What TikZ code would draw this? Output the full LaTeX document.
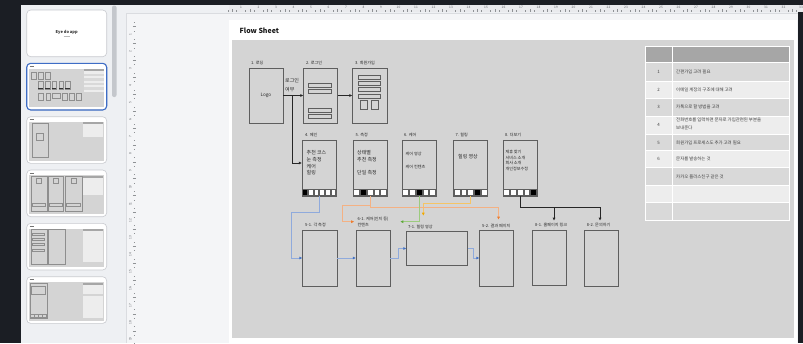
\documentclass[tikz,border=0pt]{standalone}
\usepackage{fontspec}
\newfontfamily\kr{Noto Sans CJK KR}
\usetikzlibrary{arrows.meta,calc}
\definecolor{uidark}{HTML}{1B1E24}
\definecolor{panel}{HTML}{EEF0F3}
\definecolor{canvas}{HTML}{F4F5F7}
\definecolor{cline}{HTML}{DADCE0}
\definecolor{rulerbg}{HTML}{E9EAED}
\definecolor{rtxt}{HTML}{5F6368}
\definecolor{scroll}{HTML}{C4C7CC}
\definecolor{diag}{HTML}{D4D4D4}
\definecolor{boxc}{HTML}{5E5E5E}
\definecolor{txt}{HTML}{262626}
\definecolor{tabtxt}{HTML}{404040}
\definecolor{lblue}{HTML}{8FAADC}
\definecolor{tblue}{HTML}{4472C4}
\definecolor{lorange}{HTML}{F4B183}
\definecolor{torange}{HTML}{ED7D31}
\definecolor{lamber}{HTML}{F5C466}
\definecolor{tamber}{HTML}{F0A800}
\definecolor{lgreen}{HTML}{9CCB7E}
\definecolor{tgreen}{HTML}{5FA83A}
\definecolor{thead}{HTML}{A6A6A6}
\definecolor{tdark}{HTML}{D9D9D9}
\definecolor{tlight}{HTML}{EDEDED}
\definecolor{selblue}{HTML}{3E6DC6}
\definecolor{thumbb}{HTML}{C8CACF}

\newcommand\mytabs[3]{%
  \pgfmathsetmacro\tabw{(33-(#2-1))/#2}%
  \foreach \i in {1,...,#2}{%
    \pgfmathsetmacro\tabx{#1+0.5+(\i-1)*(\tabw+1)}%
    \ifnum\i=#3\relax\def\tabc{black}\else\def\tabc{white}\fi
    \draw[tabst, fill=\tabc] (\tabx,188.8) rectangle ++(\tabw,6.7);
  }}

\def\mainrects{249/68/283/123, 303.5/68/337.5/123, 352.5/68/387.5/123, 302/140/336/196, 353/140/387/196, 402/140/436/196, 453.5/140/487.5/196, 503/140/537/196, 302.5/230/337/286, 356/230/390/286, 406.5/231.5/467.5/265.5, 479.5/230/513.5/286, 532.5/230/566.5/285, 584.5/230/618.5/286}

\begin{document}
\begin{tikzpicture}[x=1pt,y=-1pt,
  scr/.style={draw=boxc, line width=0.55pt, inner sep=0pt, minimum width=34pt, minimum height=56pt},
  lab/.style={font=\kr\fontsize{4.1}{5.7}\selectfont, text=txt, inner sep=0pt, anchor=west, align=left},
  btxt/.style={font=\kr\fontsize{5}{6.67}\selectfont, text=txt, inner sep=0pt, anchor=west, align=left},
  stxt/.style={font=\kr\fontsize{4.1}{5.67}\selectfont, text=txt, inner sep=0pt, anchor=west, align=left},
  ttxt/.style={font=\kr\fontsize{4.4}{7.3}\selectfont, text=tabtxt, inner sep=0pt, anchor=west, align=left},
  tnum/.style={font=\kr\fontsize{4.4}{5}\selectfont, text=tabtxt, inner sep=0pt},
  rnum/.style={font=\kr\fontsize{3.2}{3.6}\selectfont, text=rtxt, inner sep=0pt},
  rtick/.style={draw=rtxt!70, line width=0.35pt},
  bar/.style={draw=boxc, line width=0.5pt},
  tabst/.style={draw=boxc, line width=0.45pt},
  conn/.style={line width=0.65pt},
  tipk/.style={-{Triangle[length=2.8pt,width=2.6pt]}},
  tipb/.style={-{Triangle[length=2.8pt,width=2.6pt,color=tblue]}},
  tipo/.style={-{Triangle[length=2.8pt,width=2.6pt,color=torange]}},
  tipa/.style={-{Triangle[length=2.8pt,width=2.6pt,color=tamber]}},
  tipg/.style={-{Triangle[length=2.8pt,width=2.6pt,color=tgreen]}},
  mini/.style={draw=boxc!70, line width=0.18pt},
  thumb/.style={fill=white, draw=thumbb, line width=0.6pt, rounded corners=4pt}
]
\useasboundingbox (0,0) rectangle (803,343);
% ---------- application chrome ----------
\fill[panel] (0,0) rectangle (803,343);
\fill[canvas] (126,13) rectangle (803,343);
\draw[cline, line width=0.5pt] (126,343) -- (126,13) -- (803,13);
\fill[uidark] (0,0) rectangle (21,343);
\fill[uidark] (0,0) rectangle (803,4.5);
\fill[uidark] (797.5,12) rectangle (803,343);
\fill[scroll, rounded corners=2pt] (112,5.5) rectangle (116.5,97);
% horizontal ruler
\fill[rulerbg] (229,4.5) rectangle (803,12);
\foreach \k in {1,...,33} \node[rnum] (hr\k) at ({241+(\k-1)*17.5},7.6) {\k};
\foreach \m in {0,...,131}{\pgfmathtruncatemacro\mm{mod(\m,4)}%
  \ifnum\mm=0\relax\else\ifnum\mm=2\relax
    \draw[rtick] ({223.5+\m*4.375},9) -- ++(0,2.8);\else
    \draw[rtick] ({223.5+\m*4.375},10.2) -- ++(0,1.6);\fi\fi}
% vertical ruler
\foreach \k in {1,...,19} \node[rnum, rotate=90] (vr\k) at (130.3,{35+(\k-1)*16.9}) {\k};
\foreach \m in {0,...,77}{\pgfmathtruncatemacro\mm{mod(\m,4)}%
  \ifnum\mm=0\relax\else\ifnum\mm=2\relax
    \draw[rtick] (132.8,{18.1+\m*4.225}) -- ++(2.8,0);\else
    \draw[rtick] (133.8,{18.1+\m*4.225}) -- ++(1.6,0);\fi\fi}
% ---------- thumbnails ----------
\foreach \t in {10,63.3,116.7,170,223.3,276.7} \draw[thumb] (26.7,\t) rectangle ++(80,46.7);
\node[font=\kr\bfseries\fontsize{4}{4.8}\selectfont, text=black!80, inner sep=0pt] (th1) at (66.7,32.3) {Eye do app};
\draw[gray!55, line width=0.7pt] (63.5,36.3) -- (69.9,36.3);
\foreach \t in {63.3,116.7,170,223.3,276.7}{
  \fill[diag] (29,\t+5.2) rectangle (104.3,\t+44);
  \draw[black!55, line width=0.6pt] (29.5,\t+2.8) -- (33.5,\t+2.8);
}
% thumbnail 2: miniature of the flow sheet
\begin{scope}[shift={(29,68.5)}, xscale=0.134, yscale=0.13, shift={(-232,-40)}]
  \foreach \a/\b/\c/\d in \mainrects {\draw[mini] (\a,\b) rectangle (\c,\d);}
  \foreach \x in {302,353,402,453.5,503} \fill[black!80] (\x,188) rectangle ++(34,8);
  \fill[tlight] (645,46.5) rectangle (789.5,220);
  \fill[thead] (645,46.5) rectangle (789.5,62.5);
  \foreach \y in {81,116,150.7,185} \fill[tdark] (645,\y) rectangle (789.5,\y+17.5);
\end{scope}
\draw[selblue, line width=1.1pt, rounded corners=4pt] (26.7,63.3) rectangle ++(80,46.7);
% thumbnail 3
\draw[mini] (31.7,123.3) rectangle (48.3,156.7);
\draw[mini] (36,133.3) rectangle (43.3,140);
\fill[tlight] (83.3,121.5) rectangle (102.7,137);
\fill[thead] (83.3,121.5) rectangle (102.7,123.5);
% thumbnail 4
\foreach \x/\w in {30.7/16, 48/15.3, 65/16.7}{
  \draw[mini] (\x,176.5) rectangle ++(\w,34.5);
  \draw[mini] (\x+\w/2-2.5,178) rectangle ++(5,5);
  \draw[mini] (\x+1.5,203) rectangle ++(\w-3,3);}
\fill[tlight] (83.3,175.5) rectangle (102.7,195);
\fill[thead] (83.3,175.5) rectangle (102.7,177.5);
% thumbnail 5
\draw[mini] (30.7,229.5) rectangle (46.7,264);
\foreach \y in {233,238,243,249} \draw[mini] (32.5,\y) rectangle ++(12,2.5);
\draw[mini] (48.3,229.5) rectangle (65,264);
\fill[tlight] (83.3,229) rectangle (102.7,262);
\fill[thead] (83.3,229) rectangle (102.7,231);
% thumbnail 6
\draw[mini] (30,283) rectangle (46.7,318.5);
\draw[mini] (31.5,286) rectangle (45,294);
\foreach \x in {30.5,34.5,38.5,42.5} \draw[mini] (\x,314) rectangle ++(3.5,3.5);
\fill[tlight] (83.3,282.5) rectangle (102.7,294);
\fill[thead] (83.3,282.5) rectangle (102.7,284.5);
\fill[tlight] (83.3,296) rectangle (102.7,318);
% ---------- slide ----------
\fill[white] (229,20) rectangle (797,343);
\fill[diag] (232,40) rectangle (794,338);
\node[font=\kr\bfseries\fontsize{7}{8}\selectfont, anchor=west, inner sep=0pt, text=black!90] (title) at (239.5,30.8) {Flow Sheet};

% screens
\node[scr, minimum height=55pt, font=\kr\fontsize{4.6}{5.5}\selectfont, text=txt] (b1) at (266,95.5) {Logo};
\node[scr, minimum height=55pt] (b2) at (320.5,95.5) {};
\node[scr, minimum height=55pt, minimum width=35pt] (b3) at (370,95.5) {};
\node[scr] (b4) at (319,168) {};
\node[scr] (b5) at (370,168) {};
\node[scr] (b6) at (419,168) {};
\node[scr] (b7) at (470.5,168) {};
\node[scr] (b8) at (520,168) {};
\node[scr, minimum width=34.5pt] (r51) at (319.75,258) {};
\node[scr] (r61) at (373,258) {};
\node[scr, minimum width=61pt, minimum height=34pt] (r71) at (437,248.5) {};
\node[scr] (r52) at (496.5,258) {};
\node[scr, minimum height=55pt] (r81) at (549.5,257.5) {};
\node[scr] (r82) at (601.5,258) {};

% inner bars of login / signup
\foreach \y in {83.3,89.3,108.3,114.3} \draw[bar] (308,\y) rectangle ++(23,3.5);
\foreach \y in {75.3,81.3,87.7,94} \draw[bar] (358.3,\y) rectangle ++(22,4);
\draw[bar] (360.3,100) rectangle (367,109.3);
\draw[bar] (371.3,100) rectangle (378,109.3);

% tab bars
\mytabs{302}{6}{1}
\mytabs{353}{5}{2}
\mytabs{402}{5}{3}
\mytabs{453.5}{5}{4}
\mytabs{503}{5}{5}

% texts inside screens
\node[font=\kr\fontsize{5}{9.3}\selectfont, text=txt, inner sep=0pt, anchor=west, align=left] (q1) at (285,85.3) {로그인\\여부};
\node[btxt] (x4) at (306.5,163) {추천 코스\\눈 측정\\케어\\힐링};
\node[btxt] (x5) at (357,163) {상태별\\추천 측정\\[6.67pt]단일 측정};
\node[stxt] (x6a) at (405.5,154.3) {케어 영상};
\node[stxt] (x6b) at (405.5,166.7) {케어 컨텐츠};
\node[btxt] (x7) at (458,156.7) {힐링 영상};
\node[stxt] (x8) at (505.3,160.6) {제휴 찾기\\서비스 소개\\회사 소개\\개인정보수정};

% labels
\node[lab] (l1) at (251,63) {1. 로딩};
\node[lab] (l2) at (306,63) {2. 로그인};
\node[lab] (l3) at (355,63) {3. 회원가입};
\node[lab] (l4) at (305,135) {4. 메인};
\node[lab] (l5) at (355.5,135) {5. 측정};
\node[lab] (l6) at (404,135) {6. 케어};
\node[lab] (l7) at (455.5,135) {7. 힐링};
\node[lab] (l8) at (505,135) {8. 더보기};
\node[lab] (l51) at (305,225) {5-1. 각 측정};
\node[lab] (l61) at (357.5,222.2) {6-1. 케어(인지 등)\\컨텐츠};
\node[lab] (l71) at (408,227.3) {7-1. 힐링 영상};
\node[lab] (l52) at (482,225.7) {5-2. 결과 페이지};
\node[lab] (l81) at (535,225) {8-1. 홈페이지 링크};
\node[lab] (l82) at (586.7,225) {8-2. 문의하기};

% arrow end points
\coordinate (ao61) at (354,221.7);
\coordinate (ao52) at (498.5,219.5);
\coordinate (aam) at (423.3,215.5);
\coordinate (agr) at (400.5,221.7);
\coordinate (a81) at (554,220.5);
\coordinate (a82) at (600,220.5);

% connectors
\draw[conn, black!85, tipk] (b1.east) -- coordinate[pos=0.44] (j1) (b2.west);
\draw[conn, black!85, tipk] (j1) |- ([yshift=5pt]b4.west);
\draw[conn, black!85, tipk] (b2.east) -- (b3.west);

\draw[conn, lamber, tipa] (b7.south) -- ++(0,7.5) -| (aam);
\draw[conn, lorange, tipo] (b5.south) -- ++(0,9) -| ($(ao61)+(-11.5,0)$) -- (ao61);
\draw[conn, lorange, tipo] (b5.south) -- ++(0,11.5) -| (ao52);
\draw[conn, lgreen, tipg] (b6.south) |- (agr);

\draw[conn, lblue, tipb] (b4.south) -- ++(0,16) -| ([xshift=-10.5pt]r51.west) -- (r51.west);
\draw[conn, lblue, tipb] (r51.east) -- (r61.west);
\draw[conn, lblue, tipb] (r61.east) -- ++(8,0) |- (r71.west);
\draw[conn, lblue, tipb] (r71.east) -- ++(5.8,0) |- (r52.west);

\draw[conn, black!85, tipk] (b8.south) -- ++(0,11.5) coordinate (k8) -| (a82);
\draw[conn, black!85, tipk] (k8 -| a81) -- (a81);

% ---------- notes table ----------
\fill[thead] (645,46.5) rectangle (789.5,62.5);
\foreach \ya/\yb/\c in {62.5/81/tdark, 81/98.5/tlight, 98.5/116/tdark, 116/134/tlight, 134/150.7/tdark, 150.7/167.3/tlight, 167.3/185/tdark, 185/202.7/tlight, 202.7/220/tdark}
  \fill[\c] (645,\ya) rectangle (789.5,\yb);
\foreach \y in {62.5,81,98.5,116,134,150.7,167.3,185,202.7}
  \draw[white, line width=0.7pt] (645,\y) -- (789.5,\y);
\draw[white, line width=0.9pt] (645,46.5) rectangle (789.5,220);
\draw[white, line width=0.9pt] (672.3,46.5) -- (672.3,220);
\node[tnum] (n1) at (658.5,72.3) {1};
\node[tnum] (n2) at (658.5,90.2) {2};
\node[tnum] (n3) at (658.5,107) {3};
\node[tnum] (n4) at (658.5,124.5) {4};
\node[tnum] (n5) at (658.5,142.5) {5};
\node[tnum] (n6) at (658.5,159.2) {6};
\node[ttxt] (t1) at (676,72.3) {간편가입 고려 필요};
\node[ttxt] (t2) at (676,90.2) {이메일 계정의 구조에 대해 고려};
\node[ttxt] (t3) at (676,107) {카톡으로 할 방법을 고려};
\node[ttxt] (t4) at (676,123.8) {전화번호를 입력하면 문자로 가입관련된 부분을\\보내준다};
\node[ttxt] (t5) at (676,142.5) {회원가입 프로세스도 추가 고려 필요};
\node[ttxt] (t6) at (676,159.2) {문자를 발송하는 것};
\node[ttxt] (t7) at (676,176.5) {카카오 플러스친구 같은 것};
\end{tikzpicture}
\end{document}
